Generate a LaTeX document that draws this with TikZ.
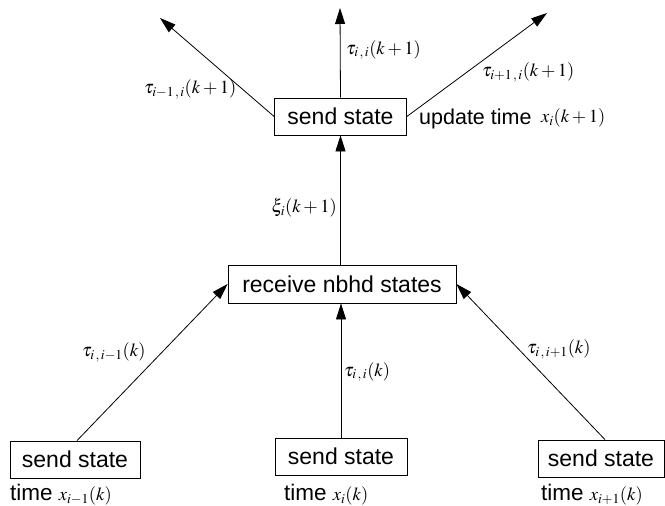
\documentclass[tikz,border=0pt]{standalone}
\usepackage{mathptmx}
\usepackage{fontspec}
\setmainfont{Liberation Sans}
\usetikzlibrary{arrows.meta}
\newcommand{\sep}{\,,\,}
\begin{document}
\begin{tikzpicture}[x=1pt,y=-1pt,
  box/.style={draw,line width=0.8pt,inner sep=0pt,minimum height=37pt,
    font=\fontsize{23}{27}\selectfont},
  lbl/.style={inner sep=0pt,font=\fontsize{18.5}{22}\selectfont},
  txt/.style={inner sep=0pt,font=\fontsize{22.5}{26}\selectfont},
  link/.style={line width=0.8pt,-{Triangle[length=16pt,width=10pt]}}]
\useasboundingbox (0,0) rectangle (665,506);

% boxes
\node[box,minimum width=132pt] (top) at (340.5,116.5) {send state};
\node[box,minimum width=228pt,minimum height=38pt] (recv) at (342,284) {receive nbhd states};
\node[box,minimum width=130pt] (left) at (75,459.5) {send state};
\node[box,minimum width=132pt] (mid) at (341,456.5) {send state};
\node[box,minimum width=126pt] (right) at (601,458.5) {send state};

% free ends of the outgoing arrows
\coordinate (outL) at (160,18);
\coordinate (outC) at (340,8);
\coordinate (outR) at (547,13);

% connectors
\draw[link] (top.west) -- (outL);
\draw[link] (top.north) -- (outC);
\draw[link] (top.east) -- (outR);
\draw[link] (recv.north -| top.south) -- (top.south);
\draw[link] (left.north east -| 77,0) -- (recv.west);
\draw[link] (mid.north) -- (mid.north |- recv.south);
\draw[link] (right.north west -| 605,0) -- (recv.east);

% labels
\node[lbl,anchor=west] (l1) at (346,50) {$\tau_{i\sep i}(k+1)$};
\node[lbl,anchor=west] (l2) at (482,72) {$\tau_{i+1\sep i}(k+1)$};
\node[lbl,anchor=west] (l3) at (144,89) {$\tau_{i-1\sep i}(k+1)$};
\node[txt,anchor=west,font=\fontsize{21.5}{25}\selectfont] (upd) at (419,119) {update time};
\node[lbl,anchor=west] (upx) at (541,118) {$x_i(k+1)$};
\node[lbl,anchor=east] (xi) at (337,208) {$\xi_i(k+1)$};
\node[lbl,anchor=west] (l4) at (82,352) {$\tau_{i\sep i-1}(k)$};
\node[lbl,anchor=west] (l5) at (344,372) {$\tau_{i\sep i}(k)$};
\node[lbl,anchor=west] (l6) at (527,349) {$\tau_{i\sep i+1}(k)$};

% local times
\node[txt,anchor=west] (t1) at (10,495) {time \fontsize{18.5}{22}\selectfont$x_{i-1}(k)$};
\node[txt,anchor=west] (t2) at (284,495) {time \fontsize{18.5}{22}\selectfont$x_{i}(k)$};
\node[txt,anchor=west] (t3) at (541,495) {time \fontsize{18.5}{22}\selectfont$x_{i+1}(k)$};
\end{tikzpicture}
\end{document}
